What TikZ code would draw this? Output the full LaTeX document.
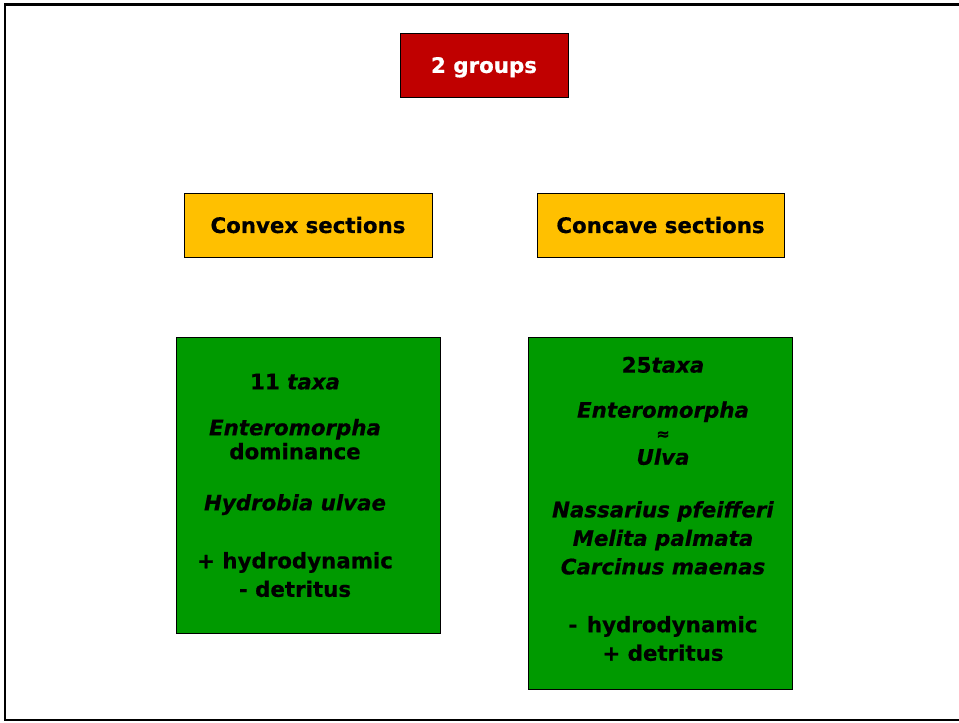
\documentclass[tikz,border=0pt]{standalone}
\usepackage{fontspec}
\setmainfont{DejaVu Sans}[BoldFeatures={FakeBold=0.6}, BoldItalicFeatures={FakeBold=0.6}]
\usepackage{tikz}

\definecolor{groupred}{HTML}{C00000}
\definecolor{sectionyellow}{HTML}{FFC000}
\definecolor{taxagreen}{HTML}{009A00}

\begin{document}
\begin{tikzpicture}[x=0.75pt, y=-0.75pt, box/.style={
		% The shape:
		rectangle,
		% The border
		line width=0.75pt, draw=black,
		% The text
		font=\fontsize{16}{21.4}\selectfont\bfseries, inner sep=0pt},
	taxa/.style={
		font=\fontsize{16}{21.4}\selectfont\bfseries,
		align=center, inner sep=0pt, anchor=north}]
    \useasboundingbox (0,0) rectangle (959,722);
    \draw [line width=1.9pt] (5,4.5) rectangle (963,720);
    \node (groups) [box, fill=groupred, text=white, text depth=0pt, minimum width=126pt, minimum height=48pt] at (484,65) {2 groups};
    \node (convex) [box, fill=sectionyellow, minimum width=186pt, minimum height=48pt] at (308,225) {Convex sections};
    \node (concave) [box, fill=sectionyellow, minimum width=185.25pt, minimum height=48pt] at (660.5,225) {Concave sections};
    \node (convexbox) [box, fill=taxagreen, minimum width=198pt, minimum height=222pt] at (308,485) {};
    \node (concavebox) [box, fill=taxagreen, minimum width=198pt, minimum height=264pt] at (660,513) {};
    \node (convextaxa) [taxa] at (295,373.5) {11 \textit{taxa}\\[13pt]
      \textit{Enteromorpha}\\[-3.4pt]
      dominance\\[17pt]
      \textit{Hydrobia ulvae}\\[22pt]
      + hydrodynamic\\
      - detritus};
    \node (concavetaxa) [taxa] at (663,356.5) {25\textit{taxa}\\[12.4pt]
      \textit{Enteromorpha}\\[-5pt]
      {\fontsize{12}{12}\selectfont ≈}\\[-2.5pt]
      \textit{Ulva}\\[18pt]
      \textit{Nassarius pfeifferi}\\
      \textit{Melita palmata}\\
      \textit{Carcinus maenas}\\[22pt]
      -\hspace{0.45em}hydrodynamic\\
      + detritus};
\end{tikzpicture}
\end{document}
